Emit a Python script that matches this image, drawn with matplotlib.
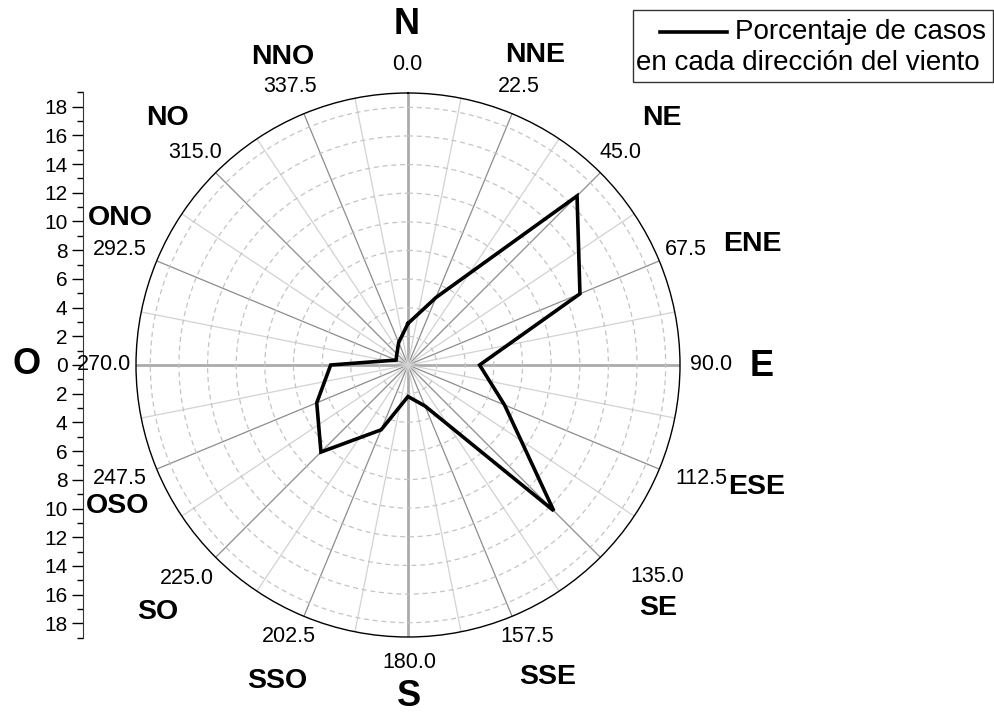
import matplotlib
matplotlib.use('Agg')
import matplotlib.pyplot as plt
import numpy as np
from matplotlib.lines import Line2D
from matplotlib.patches import Rectangle

plt.rcParams['font.family'] = ['Liberation Sans', 'DejaVu Sans']

W, H = 995, 715

# datos: porcentaje de casos por dirección (16 rumbos)
directions = ['N', 'NNE', 'NE', 'ENE', 'E', 'ESE', 'SE', 'SSE',
              'S', 'SSO', 'SO', 'OSO', 'O', 'ONO', 'NO', 'NNO']
angles_deg = [0.0, 22.5, 45.0, 67.5, 90.0, 112.5, 135.0, 157.5,
              180.0, 202.5, 225.0, 247.5, 270.0, 292.5, 315.0, 337.5]
percent = [2.9, 5.1, 16.7, 13.0, 5.0, 7.3, 14.4, 3.1,
           2.2, 4.9, 8.6, 6.9, 5.4, 0.9, 1.1, 1.7]
radial_ticks = list(range(0, 19, 2))
scale_ticks = list(range(-18, 19, 2))
legend_lines = ['Porcentaje de casos', 'en cada dirección del viento']

# posiciones (px) de las etiquetas alrededor del círculo
angle_label_px = [(407, 64), (519, 87), (620, 152), (686, 250), (711, 365),
                  (701, 478), (657, 577), (527, 637), (409, 662), (289, 637),
                  (187, 578), (120, 478), (104, 365), (120, 250), (195, 152),
                  (290, 86)]
dir_label_px = [(407, 25), (535, 55), (662, 118), (752, 244), (762, 367),
                (757, 487), (658, 608), (548, 677), (409, 697), (277, 681),
                (158, 612), (118, 506), (27, 365), (120, 218), (168, 118),
                (283, 57)]


def fx(x):
    return x / W


def fy(y):
    return 1 - y / H


fig = plt.figure(figsize=(W / 100, H / 100), dpi=100)

ax = fig.add_axes([136 / W, 78 / H, 544 / W, 544 / H], projection='polar')
ax.set_theta_zero_location('N')
ax.set_theta_direction(-1)

theta = np.deg2rad(angles_deg)
ax.plot(np.append(theta, theta[0]), percent + percent[:1],
        color='black', lw=2.6, zorder=5, solid_joinstyle='miter')

ax.set_ylim(0, 19)
ax.set_yticks(radial_ticks)
ax.set_yticklabels([])
ax.yaxis.grid(True, color='#c4c4c4', linestyle=(0, (4, 3)), lw=0.9)

ax.set_xticks(theta)
ax.set_xticklabels([])
ax.set_xticks(theta + np.deg2rad(11.25), minor=True)
ax.xaxis.grid(True, which='major', color='#8c8c8c', lw=0.9)
ax.xaxis.grid(True, which='minor', color='#d2d2d2', lw=0.9)
ax.tick_params(axis='x', which='both', direction='in', length=9,
               width=1, color='black')
for i, gl in enumerate(ax.xaxis.get_gridlines()):
    if i % 4 == 0:
        gl.set_color('#ababab')
        gl.set_linewidth(2)
ax.spines['polar'].set_color('black')
ax.spines['polar'].set_linewidth(1)

for i, lab in enumerate(angles_deg):
    x, y = angle_label_px[i]
    fig.text(fx(x), fy(y), f'{lab:.1f}', ha='center', va='center', fontsize=15.5)

for i, name in enumerate(directions):
    x, y = dir_label_px[i]
    size = 26 if i % 4 == 0 else 20.5
    fig.text(fx(x), fy(y), name, ha='center', va='center',
             fontsize=size, fontweight='bold')

# escala lineal a la izquierda
sax = fig.add_axes([82.7 / W, 77.3 / H, 0.001, 545.4 / H])
sax.set_ylim(-19, 19)
sax.set_yticks(scale_ticks)
sax.set_yticklabels([str(abs(v)) for v in scale_ticks])
sax.set_yticks(list(range(-19, 20)), minor=True)
sax.tick_params(axis='y', which='major', length=8, width=1, labelsize=15, pad=3)
sax.tick_params(axis='y', which='minor', length=4, width=1)
sax.set_xticks([])
for s in ['top', 'right', 'bottom']:
    sax.spines[s].set_visible(False)
sax.spines['left'].set_color('#333333')
sax.patch.set_visible(False)

# leyenda
fig.add_artist(Rectangle((fx(633), fy(82)), 360 / W, 72 / H,
                         transform=fig.transFigure, fill=False,
                         ec='#333333', lw=1))
fig.add_artist(Line2D([fx(660), fx(727)], [fy(32), fy(32)],
                      transform=fig.transFigure, color='black', lw=2.6))
fig.text(fx(735), fy(32), legend_lines[0], ha='left', va='center', fontsize=20)
fig.text(fx(808), fy(63), legend_lines[1], ha='center', va='center', fontsize=20)

fig.savefig('out.png', dpi=100)
